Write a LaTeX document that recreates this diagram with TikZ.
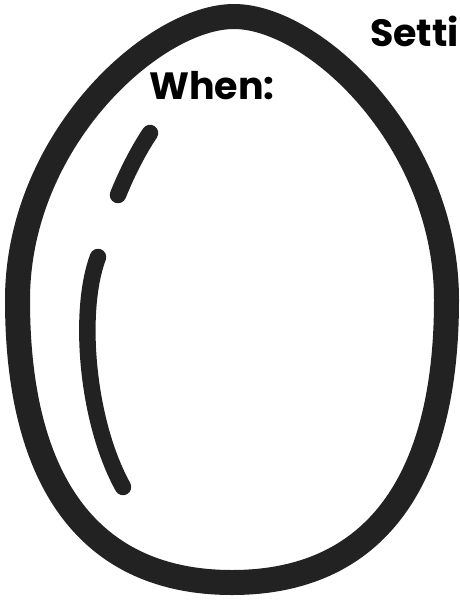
\documentclass[tikz,border=0pt]{standalone}
\usepackage{fontspec}
\setmainfont{Poppins}[BoldFont={* Bold}]
\definecolor{ink}{HTML}{222222}
\begin{document}
\begin{tikzpicture}[x=1pt,y=-1pt,
  shell/.style={draw=ink,line width=25pt},
  shine/.style={draw=ink,line width=16.5pt,line cap=round},
  label/.style={font=\fontsize{38}{42}\selectfont\bfseries,text=black,inner sep=0pt,anchor=base west}]
\useasboundingbox (0,0) rectangle (460,600);
\clip (0,0) rectangle (460,600);
\draw[shell] (234,16.5) .. controls (314,16.5) and (446.5,140) .. (446.5,300)
  .. controls (446.5,485) and (372,582.5) .. (232,582.5)
  .. controls (92,582.5) and (17.5,485) .. (17.5,300)
  .. controls (17.5,140) and (154,16.5) .. (234,16.5) -- cycle;
\draw[shine] (150,133) .. controls (140,148) and (128,170) .. (118,195);
\draw[shine] (98,257) .. controls (78,310) and (86,420) .. (123,487);
\node[label] (when) at (149,99) {When:};
\node[label] (setting) at (370,46) {Setti};
\end{tikzpicture}
\end{document}
